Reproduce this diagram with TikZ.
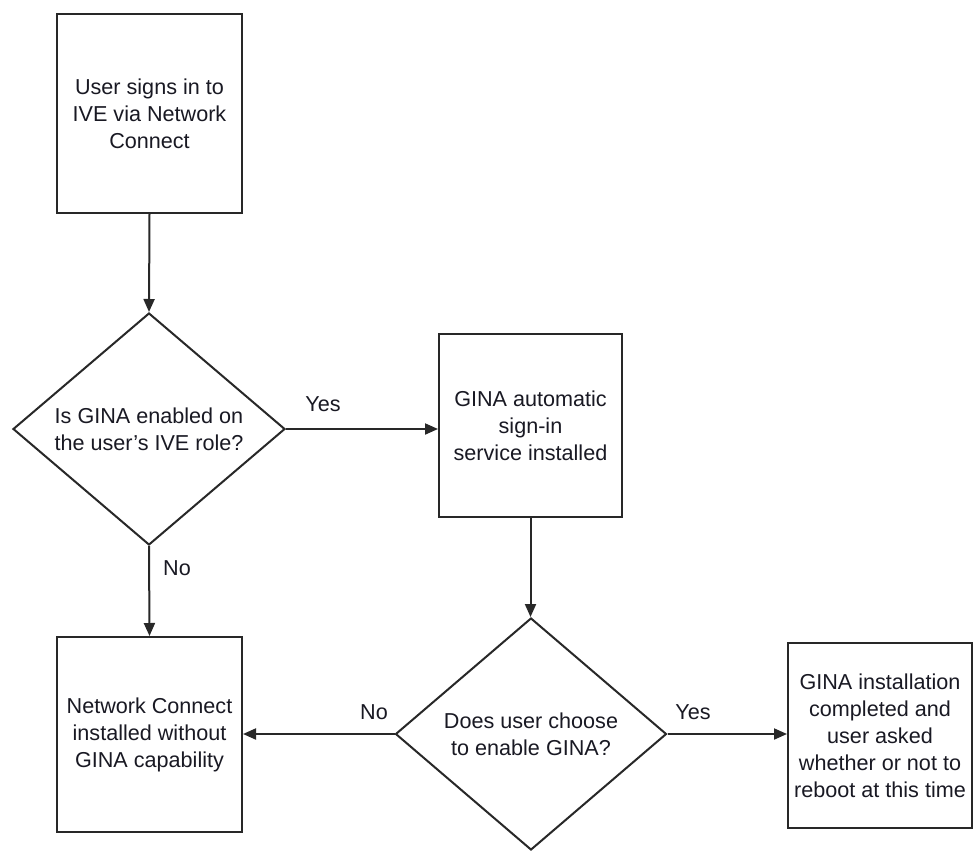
\documentclass[tikz,border=0pt]{standalone}
\usepackage{fontspec}
\setmainfont{Liberation Sans}
\usetikzlibrary{shapes.geometric,arrows.meta}
\definecolor{ln}{RGB}{40,40,40}
\definecolor{tx}{RGB}{25,25,35}
\begin{document}
\begin{tikzpicture}[x=1pt,y=-1pt,
  txtfont/.style={font=\fontsize{21.6}{27}\selectfont, text=tx},
  procbox/.style={draw=ln, line width=2pt, inner sep=0pt, align=center, txtfont},
  decide/.style={diamond, draw=ln, line width=2pt, inner sep=0pt, align=center, txtfont,
                 minimum width=272pt, minimum height=232pt},
  flow/.style={draw=ln, line width=2pt, -{Triangle[length=13pt,width=11pt]}},
  lbl/.style={txtfont, anchor=base, inner sep=0pt}
]
\useasboundingbox (0,0) rectangle (974,851);
\fill[white] (0,0) rectangle (974,851);

\node[procbox, minimum width=185pt, minimum height=199pt] (b1) at (149.5,113.5)
  {User signs in to\\IVE via Network\\Connect};
\node[decide] (d1) at (149,429) {Is GINA enabled on\\the user's IVE role?};
\node[procbox, minimum width=183pt, minimum height=183pt] (b2) at (530.5,425.5)
  {GINA automatic\\sign-in\\service installed};
\node[procbox, minimum width=185pt, minimum height=195pt] (b3) at (149.5,734.5)
  {Network Connect\\installed without\\GINA capability};
\node[decide, minimum width=271pt] (d2) at (531,734) {Does user choose\\to enable GINA?};
\node[procbox, minimum width=184pt, minimum height=185pt] (b4) at (880,735.5)
  {GINA installation\\completed and\\user asked\\whether or not to\\reboot at this time};

\draw[flow] (b1.south) -- (d1.north);
\draw[flow] (d1.east) -- (d1.east -| b2.west);
\draw[flow] (d1.south) -- (b3.north);
\draw[flow] (b2.south) -- (b2.south |- d2.north);
\draw[flow] (d2.west) -- (d2.west -| b3.east);
\draw[flow] (d2.east) -- (d2.east -| b4.west);

\node[lbl] (yes1) at (323,411) {Yes};
\node[lbl] (no1) at (177,575) {No};
\node[lbl] (no2) at (374,719) {No};
\node[lbl] (yes2) at (693,719) {Yes};
\end{tikzpicture}
\end{document}
